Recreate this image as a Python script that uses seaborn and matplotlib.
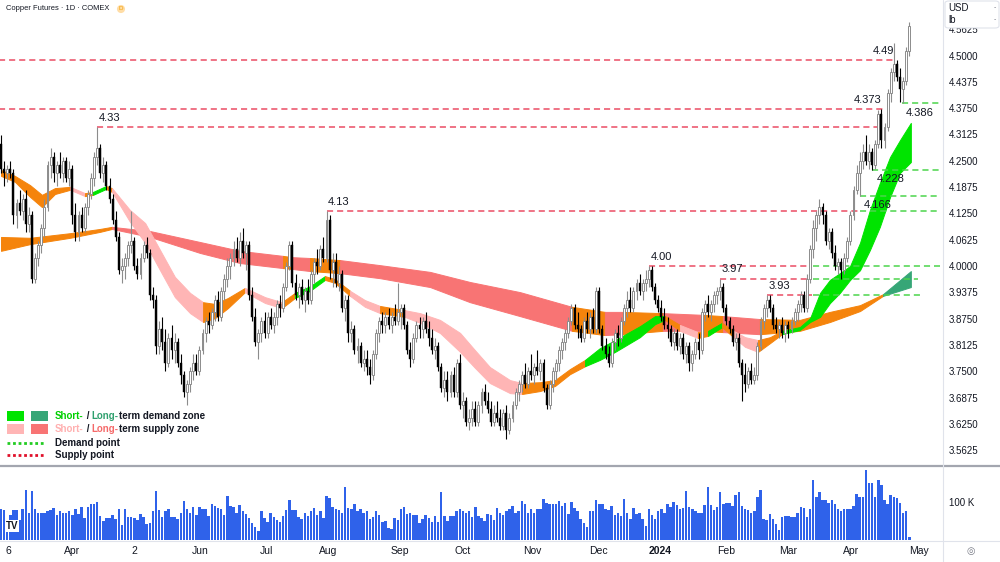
import numpy as np
import pandas as pd
import matplotlib
matplotlib.use("Agg")
import matplotlib.pyplot as plt
from matplotlib.patches import Rectangle, FancyBboxPatch
from matplotlib.lines import Line2D
import seaborn as sns

# ---- daily candles (Mar 2023 - Apr 2024) ----
opens = [4.29,4.23,4.22,4.23,4.22,4.12,4.15,4.13,4.16,4.10,
         4.12,3.97,4.02,4.05,4.09,4.14,4.24,4.26,4.22,4.24,
         4.22,4.25,4.21,4.23,4.12,4.08,4.12,4.09,4.14,4.17,
         4.21,4.26,4.28,4.22,4.24,4.19,4.16,4.11,4.07,3.99,
         4.00,4.02,4.05,4.06,4.00,3.98,4.02,4.05,4.03,3.93,
         3.92,3.81,3.85,3.82,3.77,3.83,3.80,3.82,3.77,3.74,
         3.70,3.72,3.75,3.77,3.75,3.80,3.84,3.87,3.86,3.89,
         3.92,3.88,3.94,3.97,4.00,4.02,4.04,4.02,4.06,4.03,
         4.05,3.93,3.88,3.82,3.84,3.87,3.84,3.88,3.86,3.88,
         3.91,3.90,3.95,4.00,4.05,3.96,3.93,3.95,3.92,3.94,
         3.92,3.98,4.01,4.00,4.04,4.02,4.11,3.99,4.01,3.96,
         3.98,3.90,3.92,3.84,3.85,3.80,3.81,3.77,3.78,3.76,
         3.74,3.79,3.84,3.87,3.86,3.88,3.86,3.88,3.87,3.89,
         3.90,3.86,3.80,3.78,3.83,3.86,3.85,3.87,3.85,3.83,
         3.80,3.81,3.76,3.71,3.73,3.70,3.74,3.70,3.77,3.67,
         3.68,3.63,3.64,3.66,3.63,3.67,3.70,3.68,3.66,3.63,
         3.65,3.64,3.62,3.65,3.61,3.64,3.67,3.70,3.72,3.74,
         3.72,3.75,3.74,3.76,3.75,3.77,3.71,3.67,3.72,3.75,
         3.77,3.80,3.82,3.84,3.87,3.90,3.86,3.85,3.83,3.87,
         3.85,3.88,3.85,3.94,3.85,3.81,3.79,3.77,3.82,3.84,
         3.83,3.87,3.90,3.92,3.90,3.94,3.96,3.94,3.96,3.97,
         3.99,3.95,3.92,3.90,3.88,3.86,3.85,3.82,3.84,3.81,
         3.83,3.79,3.81,3.77,3.79,3.82,3.80,3.89,3.91,3.89,
         3.91,3.93,3.94,3.95,3.90,3.87,3.85,3.82,3.83,3.77,
         3.74,3.72,3.75,3.73,3.74,3.81,3.87,3.90,3.92,3.90,
         3.86,3.85,3.86,3.84,3.86,3.85,3.87,3.89,3.91,3.93,
         3.90,3.97,4.04,4.09,4.12,4.14,4.12,4.06,4.08,4.03,
         4.00,4.01,3.99,4.02,4.06,4.12,4.18,4.22,4.25,4.27,
         4.25,4.27,4.24,4.29,4.36,4.30,4.33,4.41,4.46,4.48,
         4.45,4.42,4.44,4.51]
highs = [4.31,4.25,4.24,4.25,4.23,4.16,4.18,4.17,4.18,4.14,
         4.13,4.03,4.06,4.10,4.16,4.25,4.28,4.27,4.25,4.27,
         4.26,4.26,4.25,4.24,4.15,4.13,4.14,4.15,4.18,4.22,
         4.27,4.33,4.29,4.26,4.25,4.21,4.17,4.13,4.08,4.02,
         4.03,4.06,4.13,4.07,4.02,4.03,4.06,4.07,4.04,3.95,
         3.93,3.87,3.88,3.85,3.84,3.86,3.84,3.83,3.79,3.75,
         3.73,3.76,3.79,3.79,3.81,3.85,3.88,3.89,3.90,3.93,
         3.94,3.95,3.98,4.02,4.03,4.06,4.07,4.08,4.09,4.06,
         4.06,3.95,3.90,3.85,3.88,3.89,3.89,3.90,3.89,3.92,
         3.93,3.96,4.01,4.06,4.06,3.98,3.96,3.97,3.95,3.97,
         3.99,4.02,4.04,4.05,4.07,4.13,4.12,4.03,4.03,4.00,
         3.99,3.93,3.93,3.87,3.86,3.83,3.82,3.80,3.80,3.78,
         3.80,3.85,3.88,3.89,3.89,3.90,3.89,3.91,3.96,3.91,
         3.91,3.87,3.82,3.84,3.87,3.88,3.88,3.89,3.87,3.85,
         3.83,3.82,3.77,3.75,3.75,3.75,3.76,3.78,3.79,3.70,
         3.69,3.66,3.68,3.68,3.68,3.71,3.72,3.70,3.68,3.67,
         3.68,3.66,3.66,3.67,3.65,3.68,3.71,3.73,3.75,3.77,
         3.76,3.79,3.77,3.80,3.78,3.78,3.72,3.73,3.76,3.78,
         3.81,3.83,3.85,3.88,3.91,3.91,3.89,3.86,3.88,3.89,
         3.89,3.90,3.95,3.95,3.86,3.83,3.81,3.83,3.85,3.86,
         3.88,3.91,3.94,3.95,3.95,3.97,3.98,3.97,3.99,4.00,
         4.00,3.96,3.93,3.92,3.90,3.88,3.86,3.85,3.85,3.84,
         3.84,3.82,3.82,3.80,3.83,3.84,3.90,3.92,3.93,3.92,
         3.94,3.95,3.97,3.96,3.91,3.88,3.86,3.84,3.84,3.78,
         3.77,3.76,3.77,3.76,3.82,3.88,3.91,3.93,3.93,3.91,
         3.88,3.87,3.88,3.87,3.87,3.88,3.90,3.92,3.94,3.94,
         3.98,4.05,4.11,4.13,4.16,4.15,4.13,4.09,4.09,4.05,
         4.02,4.02,4.03,4.07,4.13,4.19,4.24,4.27,4.29,4.31,
         4.29,4.28,4.30,4.37,4.373,4.34,4.42,4.47,4.53,4.49,
         4.47,4.45,4.52,4.58]
lows = [4.22,4.19,4.20,4.21,4.10,4.09,4.12,4.11,4.08,4.08,
        3.96,3.96,4.00,4.03,4.07,4.13,4.21,4.20,4.19,4.21,
        4.20,4.20,4.19,4.10,4.06,4.06,4.08,4.08,4.12,4.16,
        4.19,4.24,4.21,4.20,4.18,4.15,4.10,4.06,3.98,3.96,
        3.97,4.00,4.03,3.99,3.97,3.97,4.01,4.02,3.92,3.90,
        3.79,3.79,3.80,3.75,3.76,3.78,3.77,3.76,3.72,3.69,
        3.67,3.70,3.73,3.74,3.74,3.79,3.82,3.84,3.85,3.87,
        3.87,3.87,3.92,3.95,3.97,4.00,4.01,4.00,4.02,3.99,
        3.92,3.87,3.81,3.78,3.82,3.83,3.83,3.85,3.84,3.86,
        3.88,3.89,3.94,3.99,3.95,3.92,3.90,3.91,3.89,3.91,
        3.91,3.96,3.98,3.99,4.01,4.01,3.97,3.95,3.95,3.94,
        3.89,3.87,3.82,3.82,3.79,3.77,3.76,3.75,3.74,3.72,
        3.73,3.78,3.82,3.84,3.84,3.85,3.84,3.86,3.86,3.85,
        3.85,3.79,3.76,3.77,3.82,3.83,3.83,3.84,3.81,3.79,
        3.78,3.75,3.70,3.69,3.68,3.69,3.69,3.69,3.66,3.64,
        3.62,3.61,3.62,3.62,3.62,3.65,3.67,3.65,3.62,3.62,
        3.63,3.61,3.61,3.59,3.60,3.63,3.66,3.68,3.70,3.71,
        3.71,3.73,3.72,3.74,3.73,3.70,3.66,3.66,3.70,3.73,
        3.75,3.78,3.80,3.83,3.86,3.85,3.83,3.82,3.82,3.84,
        3.83,3.84,3.84,3.84,3.80,3.78,3.76,3.76,3.80,3.81,
        3.82,3.86,3.88,3.89,3.89,3.92,3.93,3.92,3.94,3.95,
        3.94,3.91,3.89,3.87,3.85,3.83,3.81,3.80,3.80,3.79,
        3.78,3.77,3.75,3.75,3.78,3.78,3.79,3.87,3.88,3.87,
        3.89,3.91,3.92,3.89,3.86,3.84,3.81,3.80,3.76,3.68,
        3.70,3.71,3.72,3.72,3.73,3.80,3.85,3.88,3.89,3.85,
        3.84,3.83,3.83,3.82,3.83,3.84,3.86,3.87,3.89,3.89,
        3.89,3.96,4.02,4.06,4.10,4.10,4.05,4.04,4.02,3.99,
        3.98,3.97,3.98,4.01,4.05,4.11,4.17,4.166,4.23,4.24,
        4.23,4.228,4.23,4.28,4.28,4.28,4.32,4.39,4.44,4.44,
        4.39,4.386,4.43,4.50]
closes = [4.23,4.22,4.23,4.22,4.12,4.15,4.13,4.16,4.10,4.12,
          3.97,4.02,4.05,4.09,4.14,4.24,4.26,4.22,4.24,4.22,
          4.25,4.21,4.23,4.12,4.08,4.12,4.09,4.14,4.17,4.21,
          4.26,4.28,4.22,4.24,4.19,4.16,4.11,4.07,3.99,4.00,
          4.02,4.05,4.06,4.00,3.98,4.02,4.05,4.03,3.93,3.92,
          3.81,3.85,3.82,3.77,3.83,3.80,3.82,3.77,3.74,3.70,
          3.72,3.75,3.77,3.75,3.80,3.84,3.87,3.86,3.89,3.92,
          3.88,3.94,3.97,4.00,4.02,4.04,4.02,4.06,4.03,4.05,
          3.93,3.88,3.82,3.84,3.87,3.84,3.88,3.86,3.88,3.91,
          3.90,3.95,4.00,4.05,3.96,3.93,3.95,3.92,3.94,3.92,
          3.98,4.01,4.00,4.04,4.02,4.11,3.99,4.01,3.96,3.98,
          3.90,3.92,3.84,3.85,3.80,3.81,3.77,3.78,3.76,3.74,
          3.79,3.84,3.87,3.86,3.88,3.86,3.88,3.87,3.89,3.90,
          3.86,3.80,3.78,3.83,3.86,3.85,3.87,3.85,3.83,3.80,
          3.81,3.76,3.71,3.73,3.70,3.74,3.70,3.77,3.67,3.68,
          3.63,3.64,3.66,3.63,3.67,3.70,3.68,3.66,3.63,3.65,
          3.64,3.62,3.65,3.61,3.64,3.67,3.70,3.72,3.74,3.72,
          3.75,3.74,3.76,3.75,3.77,3.71,3.67,3.72,3.75,3.77,
          3.80,3.82,3.84,3.87,3.90,3.86,3.85,3.83,3.87,3.85,
          3.88,3.85,3.94,3.85,3.81,3.79,3.77,3.82,3.84,3.83,
          3.87,3.90,3.92,3.90,3.94,3.96,3.94,3.96,3.97,3.99,
          3.95,3.92,3.90,3.88,3.86,3.85,3.82,3.84,3.81,3.83,
          3.79,3.81,3.77,3.79,3.82,3.80,3.89,3.91,3.89,3.91,
          3.93,3.94,3.95,3.90,3.87,3.85,3.82,3.83,3.77,3.74,
          3.72,3.75,3.73,3.74,3.81,3.87,3.90,3.92,3.90,3.86,
          3.85,3.86,3.84,3.86,3.85,3.87,3.89,3.91,3.93,3.90,
          3.97,4.04,4.09,4.12,4.14,4.12,4.06,4.08,4.03,4.00,
          4.01,3.99,4.02,4.06,4.12,4.18,4.22,4.25,4.27,4.25,
          4.27,4.24,4.29,4.36,4.30,4.33,4.41,4.46,4.48,4.45,
          4.42,4.44,4.51,4.57]
# volume, thousands of contracts
volume_k = [82,79,48,66,79,79,53,82,132,70,
            130,82,71,72,70,77,79,85,67,77,
            72,70,76,66,82,68,88,57,86,94,
            94,101,63,51,57,57,66,55,82,40,
            82,60,60,57,53,68,61,42,46,76,
            130,79,60,75,81,60,60,56,70,103,
            82,70,88,67,86,82,81,63,96,90,
            85,81,66,116,90,86,72,92,75,68,
            57,46,35,24,75,57,48,70,61,53,
            48,63,79,104,79,79,60,55,70,63,
            77,85,66,76,57,116,110,88,82,79,
            70,139,85,81,95,75,82,70,75,55,
            60,75,66,48,50,31,29,57,53,81,
            88,68,70,67,67,44,55,67,57,48,
            63,48,125,63,51,64,64,75,82,75,
            70,76,60,88,63,57,51,68,66,53,
            85,70,67,75,82,89,70,75,103,94,
            71,82,71,82,82,108,98,95,96,96,
            103,90,98,68,101,85,75,55,46,33,
            75,77,105,94,96,82,79,90,67,70,
            63,107,72,56,85,68,70,55,38,81,
            66,55,75,81,70,96,86,101,92,81,
            85,130,88,82,77,72,70,92,140,92,
            79,88,127,95,98,98,89,119,125,89,
            81,79,71,75,112,132,56,53,68,56,
            41,25,60,63,63,60,60,70,88,85,
            60,81,159,112,127,105,105,98,105,96,
            81,75,81,81,81,90,121,112,112,184,
            151,151,112,158,145,105,96,119,114,110,
            98,71,75,9]

month_pos = [2.3, 22.9, 42.9, 64.2, 85.8, 105.5, 128.7, 149.0, 171.3, 192.6,
             212.6, 233.9, 253.9, 274.2, 296.1]
month_labels = ["6", "Apr", "2", "Jun", "Jul", "Aug", "Sep", "Oct", "Nov", "Dec",
                "2024", "Feb", "Mar", "Apr", "May"]

# ---- zone ribbons: knots (bar index), upper / lower edge, state of each segment ----
# D = demand, S = supply, N = neutral (orange)
short_x = [0.0, 4.5, 9.4, 13.2, 17.4, 22.3, 27.1, 29.7, 33.9, 35.8, 41.6, 46.5, 51.3,
           56.1, 61.0, 65.2, 69.0, 73.2, 78.7, 85.2, 90.6, 94.8, 99.7, 104.5, 107.7,
           112.6, 117.4, 122.3, 130.3, 135.2, 141.6, 148.1, 152.9, 157.7, 164.2, 168.1,
           173.9, 178.7, 183.5, 188.4, 193.2, 198.1, 206.1, 211.0, 214.2, 219.0, 224.8,
           228.1, 232.6, 235.8, 240.0, 244.2, 248.1, 251.9, 257.7, 261.0, 264.2, 267.4,
           270.6, 273.9, 277.1, 280.3, 283.5, 286.8, 290.0, 293.5]
short_hi = [4.228, 4.214, 4.192, 4.169, 4.185, 4.188, 4.173, 4.176, 4.190, 4.185, 4.133,
            4.102, 4.038, 3.974, 3.936, 3.914, 3.910, 3.924, 3.948, 3.926, 3.914, 3.936,
            3.952, 3.976, 3.969, 3.941, 3.919, 3.905, 3.895, 3.888, 3.872, 3.841, 3.800,
            3.760, 3.729, 3.722, 3.724, 3.729, 3.755, 3.777, 3.805, 3.824, 3.857, 3.881,
            3.881, 3.860, 3.843, 3.846, 3.865, 3.848, 3.831, 3.824, 3.831, 3.846, 3.855,
            3.876, 3.936, 3.967, 3.983, 4.000, 4.055, 4.133, 4.197, 4.259, 4.299, 4.340]
short_lo = [4.214, 4.200, 4.164, 4.140, 4.171, 4.181, 4.166, 4.169, 4.183, 4.176, 4.105,
            4.055, 3.990, 3.926, 3.888, 3.867, 3.876, 3.900, 3.938, 3.912, 3.900, 3.924,
            3.941, 3.967, 3.960, 3.929, 3.903, 3.888, 3.879, 3.865, 3.841, 3.796, 3.758,
            3.722, 3.698, 3.696, 3.703, 3.715, 3.743, 3.762, 3.777, 3.796, 3.831, 3.862,
            3.872, 3.846, 3.829, 3.834, 3.855, 3.834, 3.808, 3.796, 3.817, 3.838, 3.848,
            3.867, 3.879, 3.912, 3.936, 3.967, 3.990, 4.038, 4.093, 4.164, 4.221, 4.247]
short_state = "NNNNNSNDNSSSSSSNNNSSNDDNNSSNSSSSSSSNNNNDDDDDNSNDNSSNNDDDDDDDDDDDD"

long_x = [0.0, 9.4, 22.3, 31.9, 35.8, 48.1, 64.2, 77.1, 91.0, 93.9, 99.7, 109.4, 122.3,
          138.4, 151.3, 167.4, 184.2, 194.8, 200.6, 213.5, 226.5, 232.9, 244.8, 257.7,
          267.4, 277.1, 284.5, 293.5]
long_hi = [4.069, 4.067, 4.078, 4.088, 4.093, 4.083, 4.057, 4.036, 4.024, 4.021, 4.019,
           4.014, 4.002, 3.986, 3.962, 3.938, 3.903, 3.891, 3.891, 3.888, 3.884, 3.881,
           3.874, 3.872, 3.891, 3.907, 3.933, 3.988]
long_lo = [4.036, 4.052, 4.067, 4.081, 4.088, 4.069, 4.031, 4.007, 3.995, 3.993, 3.988,
           3.983, 3.971, 3.950, 3.914, 3.881, 3.846, 3.836, 3.838, 3.846, 3.846, 3.843,
           3.838, 3.846, 3.867, 3.893, 3.929, 3.950]
long_state = "NNNNSSSSNSNSSSSSNSNSNSNNNND"

# ---- supply / demand points ----
supply_levels = [4.49, 4.373, 4.33, 4.13, 4.00, 3.97, 3.93]
supply_start = [-5, -5, 31, 105, 209, 232, 247]
supply_end = [288.4, 284.5, 283.5, 276.5, 261.6, 261.6, 261.6]
supply_labels = ["4.49", "4.373", "4.33", "4.13", "4.00", "3.97", "3.93"]
demand_levels = [4.386, 4.228, 4.166, 4.13, 4.00, 3.97, 3.93]
demand_start = [290.5, 281, 277, 277, 262, 262, 262]
demand_end = [303, 303, 303, 303, 303, 295.8, 296.5]
demand_labels = ["4.386", "4.228", "4.166", "", "", "", ""]

price_ticks = [3.5625 + 0.0625 * k for k in range(17)]

# ---------------------------------------------------------------
sns.set_theme(style="white")
plt.rcParams['font.family'] = ['Liberation Sans', 'DejaVu Sans']

W, H = 1000, 562
def fx(px):
    return px / W
def fy(py):
    return 1 - py / H

fig = plt.figure(figsize=(10, 5.62), dpi=100)
axp = fig.add_axes([0, fy(465), fx(943), 465 / H])
axv = fig.add_axes([0, fy(540), fx(943), 73 / H])

xmin, xmax = -1 / 3.1, 942 / 3.1
txt = "#131722"

df = pd.DataFrame({"o": opens, "h": highs, "l": lows, "c": closes, "v": volume_k})
df["bar"] = np.arange(len(df))
up = df[df.c >= df.o]
dn = df[df.c < df.o]

# ribbons
zone_cols = {"short": {"D": "#00E400", "S": "#FFB5B5", "N": "#F5840C"},
             "long": {"D": "#36A677", "S": "#F87474", "N": "#F5840C"}}

def ribbon(xs, hi, lo, states, pal):
    n = len(xs) - 1
    k = 0
    while k < n:
        j = k
        while j + 1 < n and states[j + 1] == states[k]:
            j += 1
        c = pal[states[k]]
        axp.fill_between(xs[k:j + 2], lo[k:j + 2], hi[k:j + 2], color=c,
                         edgecolor=c, lw=0.7, zorder=1)
        k = j + 1

ribbon(long_x, long_hi, long_lo, long_state, zone_cols["long"])
ribbon(short_x, short_hi, short_lo, short_state, zone_cols["short"])

# supply / demand lines
red_d, green_d = "#EB4D64", "#4CD44C"
for lvl, s, e, lab in zip(supply_levels, supply_start, supply_end, supply_labels):
    axp.plot([s, e], [lvl, lvl], color=red_d, lw=1.1, ls=(0, (4, 2.6)), zorder=2)
    if s >= 0:
        axp.annotate(lab, (s, lvl), xytext=(1, 3), textcoords="offset points",
                     ha="left", va="bottom", fontsize=8, color=txt, zorder=6)
    else:
        axp.annotate(lab, (e, lvl), xytext=(-1, 3), textcoords="offset points",
                     ha="right", va="bottom", fontsize=8, color=txt, zorder=6)
for lvl, s, e, lab in zip(demand_levels, demand_start, demand_end, demand_labels):
    axp.plot([s, e], [lvl, lvl], color=green_d, lw=1.1, ls=(0, (4, 2.6)), zorder=2)
    if lab:
        axp.annotate(lab, (s, lvl), xytext=(3, -3), textcoords="offset points",
                     ha="left", va="top", fontsize=8, color=txt, zorder=6)

# candles
bw = 0.62
axp.vlines(up.bar, up.l, up.h, color="#8C8C8C", lw=0.8, zorder=3)
axp.vlines(dn.bar, dn.l, dn.h, color="#000000", lw=0.8, zorder=3)
axp.bar(up.bar, np.maximum(up.c - up.o, 0.003), bottom=up.o, width=bw,
        color="white", edgecolor="#8C8C8C", linewidth=0.7, zorder=4)
axp.bar(dn.bar, dn.o - dn.c, bottom=dn.c, width=bw,
        color="#000000", edgecolor="#000000", linewidth=0.3, zorder=4)

axp.set_xlim(xmin, xmax)
axp.set_ylim(4.0 - 199 / 421, 4.0 + 266 / 421)
axp.set_xticks([])
axp.yaxis.tick_right()
axp.set_yticks(price_ticks)
axp.set_yticklabels([f"{t:.4f}" for t in price_ticks])
axp.tick_params(axis="y", length=0, pad=4, labelsize=7, labelcolor=txt)
for s in axp.spines.values():
    s.set_visible(False)

# volume pane
sns.barplot(data=df, x="bar", y="v", native_scale=True, color="#2F62EA",
            saturation=1, width=0.78, errorbar=None, linewidth=0, ax=axv)
axv.set_xlim(xmin, xmax)
axv.set_ylim(0, 192)
axv.set_xlabel("")
axv.set_ylabel("")
axv.yaxis.tick_right()
axv.set_yticks([100])
axv.set_yticklabels(["100 K"])
axv.tick_params(axis="y", length=0, pad=4, labelsize=7, labelcolor=txt)
axv.set_xticks(month_pos)
axv.set_xticklabels(month_labels)
axv.tick_params(axis="x", length=0, pad=4, labelsize=7.5, labelcolor=txt)
for lab in axv.get_xticklabels():
    if lab.get_text() == "2024":
        lab.set_fontweight("bold")
for s in axv.spines.values():
    s.set_visible(False)

# pane separators
fig.add_artist(Line2D([0, 1], [fy(465.5), fy(465.5)], color="#A3A6AF", lw=1.6))
fig.add_artist(Line2D([0, 1], [fy(540.5), fy(540.5)], color="#E0E3EB", lw=0.8))
fig.add_artist(Line2D([fx(943), fx(943)], [0, 1], color="#E0E3EB", lw=0.8))

# title
fig.text(fx(6), fy(9), "Copper Futures · 1D · COMEX", fontsize=5.4, color=txt,
         ha="left", va="center")
fig.text(fx(121), fy(9), "D", fontsize=4.5, color="#F29D00", ha="center", va="center",
         bbox=dict(boxstyle="circle,pad=0.25", fc="#FFDDA6", ec="none"))

# currency / unit box (covers the top price label partly, as in the app)
fig.add_artist(FancyBboxPatch((fx(945), fy(28)), fx(54), 27 / H,
                              boxstyle="round,pad=0,rounding_size=0.004",
                              fc="white", ec="#E0E3EB", lw=0.8, zorder=10))
fig.text(fx(948), fy(8), "USD", fontsize=7, color=txt, ha="left", va="center", zorder=11)
fig.text(fx(948), fy(20), "lb", fontsize=7, color=txt, ha="left", va="center", zorder=11)
fig.text(fx(995), fy(8), "-", fontsize=5, color="#787B86", ha="center", va="center", zorder=11)
fig.text(fx(995), fy(20), "-", fontsize=5, color="#787B86", ha="center", va="center", zorder=11)

# logo and settings glyph
fig.text(fx(6), fy(526), "TV", fontsize=7, fontweight="black", color=txt,
         ha="left", va="center",
         bbox=dict(boxstyle="square,pad=0.1", fc="white", ec="none"))
fig.text(fx(971), fy(551), "◎", fontsize=7, color="#787B86", ha="center", va="center")

# legend
rows = [416, 429, 443, 455]
boxes = [("#00E400", "#36A677"), ("#FFB5B5", "#F87474")]
for (c1, c2), ry in zip(boxes, rows[:2]):
    fig.add_artist(Rectangle((fx(7), fy(ry + 5)), fx(17), 10 / H, fc=c1, ec="none"))
    fig.add_artist(Rectangle((fx(31), fy(ry + 5)), fx(17), 10 / H, fc=c2, ec="none"))
fig.add_artist(Line2D([fx(7), fx(45)], [fy(rows[2]), fy(rows[2])], color="#22CC22",
                      lw=2, ls=(0, (1, 1))))
fig.add_artist(Line2D([fx(7), fx(45)], [fy(rows[3]), fy(rows[3])], color="#E0102A",
                      lw=2, ls=(0, (1, 1))))

def chain(py, pieces):
    t = axp.annotate(pieces[0][0], (fx(55), fy(py)), xycoords="figure fraction",
                     ha="left", va="center", color=pieces[0][1], fontsize=7,
                     fontweight="bold", annotation_clip=False, zorder=7)
    for s, c in pieces[1:]:
        t = axp.annotate(s, (1, 0), xycoords=t, ha="left", va="bottom", color=c,
                         fontsize=7, fontweight="bold", annotation_clip=False, zorder=7)

chain(rows[0], [("Short-", "#00D000"), (" / ", txt), ("Long-", "#2FA06E"),
                ("term demand zone", txt)])
chain(rows[1], [("Short-", "#FFB0B0"), (" / ", txt), ("Long-", "#F56A6A"),
                ("term supply zone", txt)])
chain(rows[2], [("Demand point", txt)])
chain(rows[3], [("Supply point", txt)])

fig.savefig("out.png", dpi=100)
